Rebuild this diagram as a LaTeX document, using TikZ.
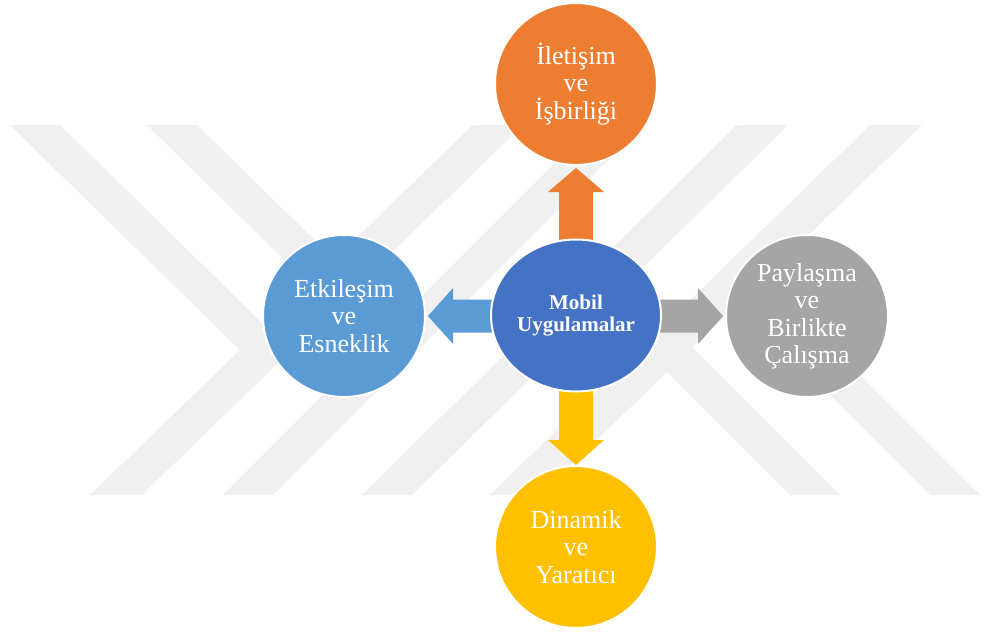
\documentclass[tikz,border=0pt]{standalone}
\usepackage{fontspec}
\setmainfont{Liberation Serif}
\usetikzlibrary{calc,shapes.geometric,backgrounds}
\definecolor{cOrange}{HTML}{ED7D31}
\definecolor{cLBlue}{HTML}{5B9BD5}
\definecolor{cDBlue}{HTML}{4472C4}
\definecolor{cGrey}{HTML}{A5A5A5}
\definecolor{cGold}{HTML}{FFC000}
\definecolor{cWm}{HTML}{F0F0F0}
\begin{document}
\begin{tikzpicture}[x=1pt,y=-1pt,
  bubble/.style={circle, draw=white, line width=2pt, minimum size=162pt, inner sep=0pt,
    text=white, align=center, font=\fontsize{26}{27.5}\selectfont},
  hub/.style={ellipse, draw=white, line width=2pt, minimum width=170pt, minimum height=152pt,
    inner sep=0pt, text=white, align=center, font=\bfseries\fontsize{21}{22.5}\selectfont},
  wm/.style={fill=cWm}]
\useasboundingbox (0,0) rectangle (984,634);

% shapes
\node[hub, fill=cDBlue] (c) at (576,315.5) {Mobil\\Uygulamalar};
\node[bubble, fill=cOrange] (t) at (576,84) {İletişim\\ve\\İşbirliği};
\node[bubble, fill=cGold] (b) at (576,547) {Dinamik\\ve\\Yaratıcı};
\node[bubble, fill=cLBlue] (l) at (344,316) {Etkileşim\\ve\\Esneklik};
\node[bubble, fill=cGrey] (r) at (807,316) {Paylaşma\\ve\\Birlikte\\Çalışma};

\begin{scope}[on background layer]
  \fill[white] (0,0) rectangle (984,634);
  % watermark
  \fill[wm] (473,125) -- (523,125) -- (142,495) -- (90,495) -- cycle;
  \fill[wm] (593,125) -- (643,125) -- (273,495) -- (223,495) -- cycle;
  \fill[wm] (737,125) -- (788,125) -- (412,495) -- (362,495) -- cycle;
  \fill[wm] (870,125) -- (922,125) -- (540,495) -- (490,495) -- cycle;
  \fill[wm] (10,125) -- (60,125) -- (265,326) -- (240,350) -- cycle;
  \fill[wm] (147,125) -- (197,125) -- (397,321) -- (372,346) -- cycle;
  \fill[wm] (667,322) -- (840,495) -- (790,495) -- (642,347) -- cycle;
  \fill[wm] (738,253) -- (980,495) -- (930,495) -- (713,278) -- cycle;
  % arrows
  \fill[cOrange] ($(t.south)+(0,2)$) -- ++(28,24) -- ++(-11,0) -- ($(c.north)+(17,12)$)
    -- ++(-34,0) -- ($(t.south)+(-17,26)$) -- ++(-11,0) -- cycle;
  \fill[cGold] (b.north) -- ++(28,-25) -- ++(-11,0) -- ($(c.south)+(17,-12)$)
    -- ++(-34,0) -- ($(b.north)+(-17,-25)$) -- ++(-11,0) -- cycle;
  \fill[cLBlue] ($(l.east)+(2,0)$) -- ++(25,-28) -- ++(0,11.5) -- ($(c.west)+(10,-16)$)
    -- ++(0,33) -- ($(l.east)+(27,16.5)$) -- ++(0,11.5) -- cycle;
  \fill[cGrey] ($(r.west)+(-2,0)$) -- ++(-25,-28) -- ++(0,11.5) -- ($(c.east)+(-10,-16)$)
    -- ++(0,33) -- ($(r.west)+(-27,16.5)$) -- ++(0,11.5) -- cycle;
\end{scope}
\end{tikzpicture}
\end{document}
